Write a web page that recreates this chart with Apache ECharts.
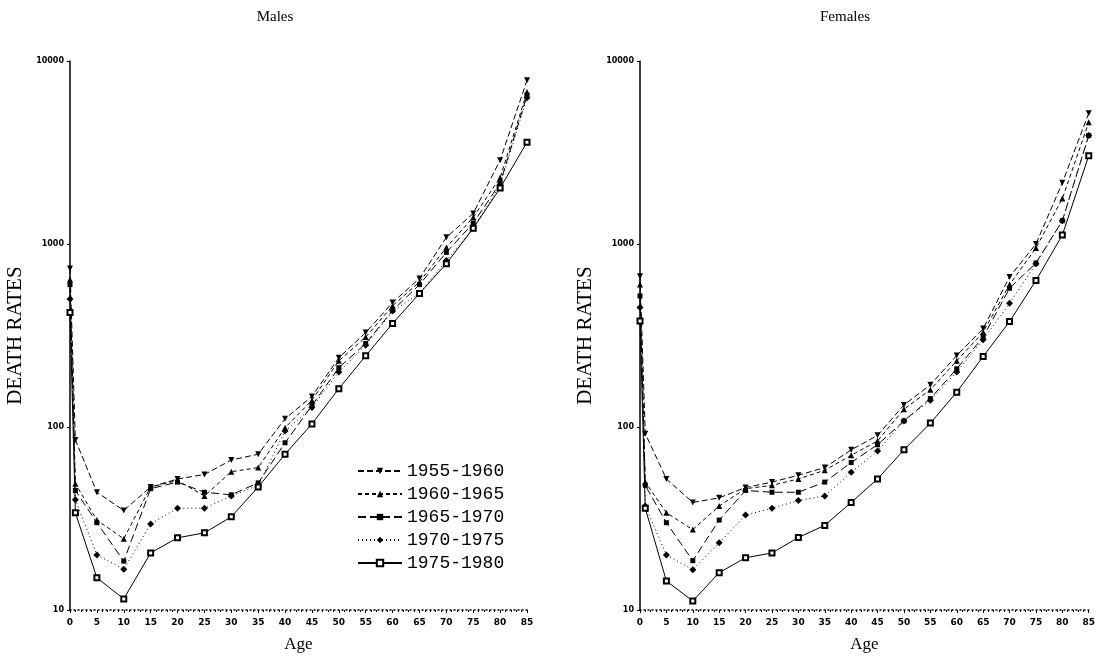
<!DOCTYPE html>
<html><head><meta charset="utf-8">
<script src="https://cdn.jsdelivr.net/npm/echarts@6/dist/echarts.min.js"></script>
<style>html,body{margin:0;padding:0;background:#fff}#c{width:1098px;height:660px}</style>
</head><body><div id="c"></div>
<script>
const ages = [0,1,5,10,15,20,25,30,35,40,45,50,55,60,65,70,75,80,85];
const periods = ['1955-1960','1960-1965','1965-1970','1970-1975','1975-1980'];
const xTicks = [0,5,10,15,20,25,30,35,40,45,50,55,60,65,70,75,80,85];
const yTicks = [10,100,1000,10000];

const male1955 = [735, 85, 44, 35, 47, 52, 55, 66, 71, 111, 147, 239, 328, 479, 648, 1087, 1470, 2870, 7850];
const male1960 = [640, 49, 31, 24.5, 47, 51, 42, 57, 60, 99, 140, 230, 310, 460, 620, 957, 1400, 2300, 6760];
const male1965 = [600, 45, 30, 18.5, 46, 50, 44, 42.6, 49.5, 82, 131, 211, 286, 433, 600, 900, 1300, 2150, 6500];
const male1970 = [500, 40, 20, 16.7, 29.5, 36, 36, 42, 48, 95, 128, 200, 280, 430, 537, 812, 1220, 2100, 6300];
const male1975 = [422, 34, 15, 11.5, 20.5, 24.8, 26.4, 32.3, 47, 71, 104, 162, 245, 368, 537, 780, 1220, 2020, 3600];

const female1955 = [667, 92, 52, 38.7, 41, 46.7, 50, 54.5, 60, 75, 90, 132, 170, 246, 345, 661, 1000, 2160, 5180];
const female1960 = [600, 50, 34, 27.5, 37, 46, 48, 52, 58, 70, 84, 125, 160, 230, 330, 600, 950, 1770, 4620];
const female1965 = [520, 48, 30, 18.6, 31, 45, 44, 44, 50, 64, 80, 108, 143, 208, 310, 573, 787, 1340, 3920];
const female1970 = [450, 37, 20, 16.6, 23.3, 33, 36, 39.6, 42, 56.6, 74, 108, 140, 200, 300, 474, 780, 1340, 3920];
const female1975 = [380, 36, 14.4, 11.2, 16, 19.3, 20.5, 24.9, 29, 38.7, 52, 75, 105, 155, 243, 377, 631, 1120, 3040];

const maleData = [male1955, male1960, male1965, male1970, male1975];
const femaleData = [female1955, female1960, female1965, female1970, female1975];

const styles = [
  {symbol:'triangle', rotate:180, size:6, type:[6,3], fill:'#000'},
  {symbol:'triangle', rotate:0, size:6, type:[4,3], fill:'#000'},
  {symbol:'rect', rotate:0, size:5, type:[8,4], fill:'#000'},
  {symbol:'diamond', rotate:0, size:7, type:[1,3], fill:'#000'},
  {symbol:'emptyRect', rotate:0, size:5, type:'solid', fill:'#fff'}
];

function mk(arr, idx, gi) {
  const s = styles[idx];
  return {
    name: periods[idx], type:'line', xAxisIndex:gi, yAxisIndex:gi,
    data: ages.map((a,i)=>[a, arr[i]]),
    symbol: s.symbol, symbolRotate: s.rotate, symbolSize: s.size,
    lineStyle:{color:'#000', width:1, type:s.type},
    itemStyle:{color:'#000', borderColor:'#000', borderWidth: s.symbol==='emptyRect'?1:0},
    animation:false, z: 3
  };
}

const serif = 'Liberation Serif, DejaVu Serif, serif';
function xAx(gi){
  return {gridIndex:gi, type:'value', min:0, max:85, interval:5,
    name:'Age', nameLocation:'middle', nameGap:26,
    nameTextStyle:{fontFamily:serif, fontSize:17, color:'#000'},
    axisLine:{show:true, onZero:false, lineStyle:{color:'#000', type:[1,3], width:1.5}},
    axisTick:{show:true, length:3, inside:false, lineStyle:{color:'#000'}},
    minorTick:{show:true, splitNumber:5, length:2, lineStyle:{color:'#000'}},
    axisLabel:{color:'#000', fontSize:9, fontWeight:'bold', fontFamily:'DejaVu Sans', margin:8,
      formatter:v=> xTicks.includes(v)? String(v):''},
    splitLine:{show:false}};
}
function yAx(gi){
  return {gridIndex:gi, type:'log', logBase:10, min:yTicks[0], max:yTicks[yTicks.length-1],
    name:'DEATH RATES', nameLocation:'middle', nameGap:44,
    nameTextStyle:{fontFamily:serif, fontSize:21, color:'#000'},
    axisLine:{show:true, lineStyle:{color:'#000', width:1.5}},
    axisTick:{show:true, length:3, lineStyle:{color:'#000'}},
    axisLabel:{color:'#000', fontSize:8, fontWeight:'bold', fontFamily:'DejaVu Sans', margin:6,
      formatter:v=> String(Math.round(v))},
    splitLine:{show:false}};
}

const series = [];
maleData.forEach((d,i)=>series.push(mk(d,i,0)));
femaleData.forEach((d,i)=>series.push(mk(d,i,1)));

const chart = echarts.init(document.getElementById('c'));
chart.setOption({
  backgroundColor:'#fff',
  animation:false,
  title:[
    {text:'Males', left:270, top:5, textAlign:'center', textStyle:{fontFamily:serif, fontSize:15, fontWeight:'normal', color:'#000'}},
    {text:'Females', left:840, top:5, textAlign:'center', textStyle:{fontFamily:serif, fontSize:15, fontWeight:'normal', color:'#000'}}
  ],
  legend:{
    data: periods, orient:'vertical', left:352, top:457, itemGap:5,
    itemWidth:44, itemHeight:8,
    textStyle:{fontFamily:'Liberation Mono, DejaVu Sans Mono, monospace', fontSize:18, color:'#000'}
  },
  grid:[
    {left:70, top:61, width:457, height:549},
    {left:640, top:61, width:450, height:549}
  ],
  xAxis:[xAx(0), xAx(1)],
  yAxis:[yAx(0), yAx(1)],
  series: series
});
</script></body></html>
